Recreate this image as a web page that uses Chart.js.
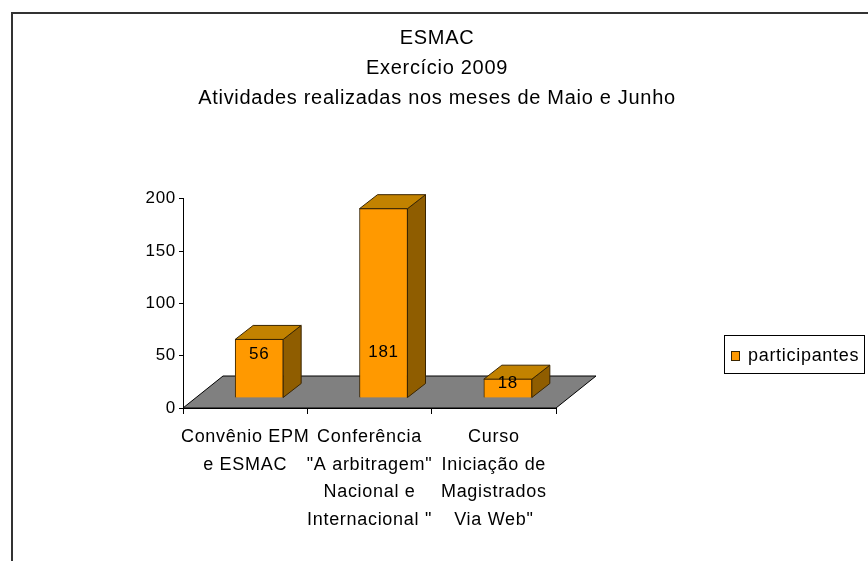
<!DOCTYPE html>
<html>
<head>
<meta charset="utf-8">
<script src="https://cdn.jsdelivr.net/npm/chart.js@4.4.0/dist/chart.umd.min.js"></script>
<style>
  html, body { margin: 0; padding: 0; background: #fff; }
</style>
</head>
<body>
<canvas id="grafico" width="868" height="561"></canvas>
<script>
// dados do gráfico
const titulo = ["ESMAC", "Exercício 2009", "Atividades realizadas nos meses de Maio e Junho"];
const categorias = [
  ["Convênio EPM", "e ESMAC"],
  ["Conferência", "\"A arbitragem\"", "Nacional e", "Internacional \""],
  ["Curso", "Iniciação de", "Magistrados", "Via Web\""]
];
const participantes = [56, 181, 18];
const ticksY = [0, 50, 100, 150, 200];
const nomeSerie = "participantes";

const LARANJA = "#FF9900";
const FONTE = "'Liberation Sans', Arial, sans-serif";
const PISO = { dx: 40, dy: 32 };                     // profundidade do piso
const BARRA = { dx: 18, dy: 14, ox: 14, oy: -10 };   // profundidade das barras

Chart.defaults.font.family = FONTE;
Chart.defaults.color = "#000";

function espacamento(chart) {
  chart.ctx.letterSpacing = "0.7px";
}

// piso cinza, laterais 3D das barras, rótulos e legenda
const efeito3d = {
  id: "efeito3d",
  beforeLayout: espacamento,
  beforeDraw(chart) {
    espacamento(chart);
    const ctx = chart.ctx;
    ctx.save();
    ctx.strokeStyle = "#333";
    ctx.lineWidth = 2;
    ctx.strokeRect(12, 13, chart.width + 20, chart.height + 20);
    ctx.restore();
  },
  beforeDatasetsDraw(chart) {
    const { ctx, chartArea: a } = chart;
    ctx.save();
    ctx.beginPath();
    ctx.moveTo(a.left, a.bottom);
    ctx.lineTo(a.left + PISO.dx, a.bottom - PISO.dy);
    ctx.lineTo(a.right + PISO.dx, a.bottom - PISO.dy);
    ctx.lineTo(a.right, a.bottom);
    ctx.closePath();
    ctx.fillStyle = "#808080";
    ctx.fill();
    ctx.strokeStyle = "#000";
    ctx.lineWidth = 1;
    ctx.stroke();

    ctx.translate(BARRA.ox, BARRA.oy);
    chart.getDatasetMeta(0).data.forEach(bar => {
      const l = bar.x - bar.width / 2, r = bar.x + bar.width / 2;
      ctx.lineWidth = 1;
      ctx.strokeStyle = "#3a2500";
      // lateral
      ctx.beginPath();
      ctx.moveTo(r, bar.y);
      ctx.lineTo(r + BARRA.dx, bar.y - BARRA.dy);
      ctx.lineTo(r + BARRA.dx, bar.base - BARRA.dy);
      ctx.lineTo(r, bar.base);
      ctx.closePath();
      ctx.fillStyle = "#8F5D00";
      ctx.fill();
      ctx.stroke();
      // topo
      ctx.beginPath();
      ctx.moveTo(l, bar.y);
      ctx.lineTo(l + BARRA.dx, bar.y - BARRA.dy);
      ctx.lineTo(r + BARRA.dx, bar.y - BARRA.dy);
      ctx.lineTo(r, bar.y);
      ctx.closePath();
      ctx.fillStyle = "#C28200";
      ctx.fill();
      ctx.stroke();
    });
  },
  afterDatasetsDraw(chart) {
    const ctx = chart.ctx;
    ctx.restore();
    const y = chart.scales.y;
    ctx.save();
    ctx.font = "17px " + FONTE;
    ctx.fillStyle = "#000";
    ctx.textAlign = "center";
    ctx.textBaseline = "middle";
    chart.getDatasetMeta(0).data.forEach((bar, i) => {
      const v = participantes[i];
      const ly = Math.min(y.getPixelForValue(Math.min(v, 58)) + 15, bar.base - 14);
      ctx.fillText(String(v), bar.x + BARRA.ox, ly + BARRA.oy);
    });
    ctx.restore();
  },
  afterDraw(chart) {
    const ctx = chart.ctx;
    const lx = chart.width - 144, ly = 335;
    ctx.save();
    ctx.fillStyle = "#fff";
    ctx.fillRect(lx, ly, 140, 38);
    ctx.strokeStyle = "#000";
    ctx.lineWidth = 1;
    ctx.strokeRect(lx + 0.5, ly + 0.5, 140, 38);
    ctx.fillStyle = LARANJA;
    ctx.fillRect(lx + 7, ly + 16, 9, 10);
    ctx.strokeStyle = "#3a2500";
    ctx.strokeRect(lx + 7.5, ly + 16.5, 8, 9);
    ctx.fillStyle = "#000";
    ctx.font = "18px " + FONTE;
    ctx.textBaseline = "middle";
    ctx.fillText(chart.data.datasets[0].label, lx + 24, ly + 21);
    ctx.restore();
  }
};

new Chart(document.getElementById("grafico"), {
  type: "bar",
  data: {
    labels: categorias,
    datasets: [{
      label: nomeSerie,
      data: participantes,
      backgroundColor: LARANJA,
      borderColor: "#3a2500",
      borderWidth: 1,
      barThickness: 48
    }]
  },
  options: {
    responsive: false,
    animation: false,
    layout: { padding: { left: 6, right: 0, top: 0, bottom: 0 } },
    plugins: {
      legend: { display: false },
      tooltip: { enabled: false },
      title: {
        display: true,
        text: titulo,
        color: "#000",
        font: { size: 20, weight: "normal", lineHeight: 1.48 },
        padding: { top: 24, bottom: 86 }
      }
    },
    scales: {
      x: {
        afterFit: s => { s.height = 153; },
        grid: { drawOnChartArea: false, tickLength: 6, color: "#000" },
        border: { color: "#000", width: 1 },
        ticks: {
          color: "#000",
          padding: 9,
          maxRotation: 0,
          autoSkip: false,
          font: { size: 18, lineHeight: 1.54 }
        }
      },
      y: {
        min: ticksY[0],
        max: ticksY[ticksY.length - 1],
        afterFit: s => { s.width = 177; },
        afterBuildTicks: s => { s.ticks = ticksY.map(v => ({ value: v })); },
        grid: { drawOnChartArea: false, tickLength: 4, color: "#000" },
        border: { color: "#000", width: 1 },
        ticks: { color: "#000", padding: 3, font: { size: 17 } }
      },
      // eixo vazio que reserva o espaço da legenda à direita
      espaco: {
        type: "linear",
        position: "right",
        afterFit: s => { s.width = 312; },
        grid: { display: false },
        border: { display: false },
        ticks: { display: false }
      }
    }
  },
  plugins: [efeito3d]
});
</script>
</body>
</html>
